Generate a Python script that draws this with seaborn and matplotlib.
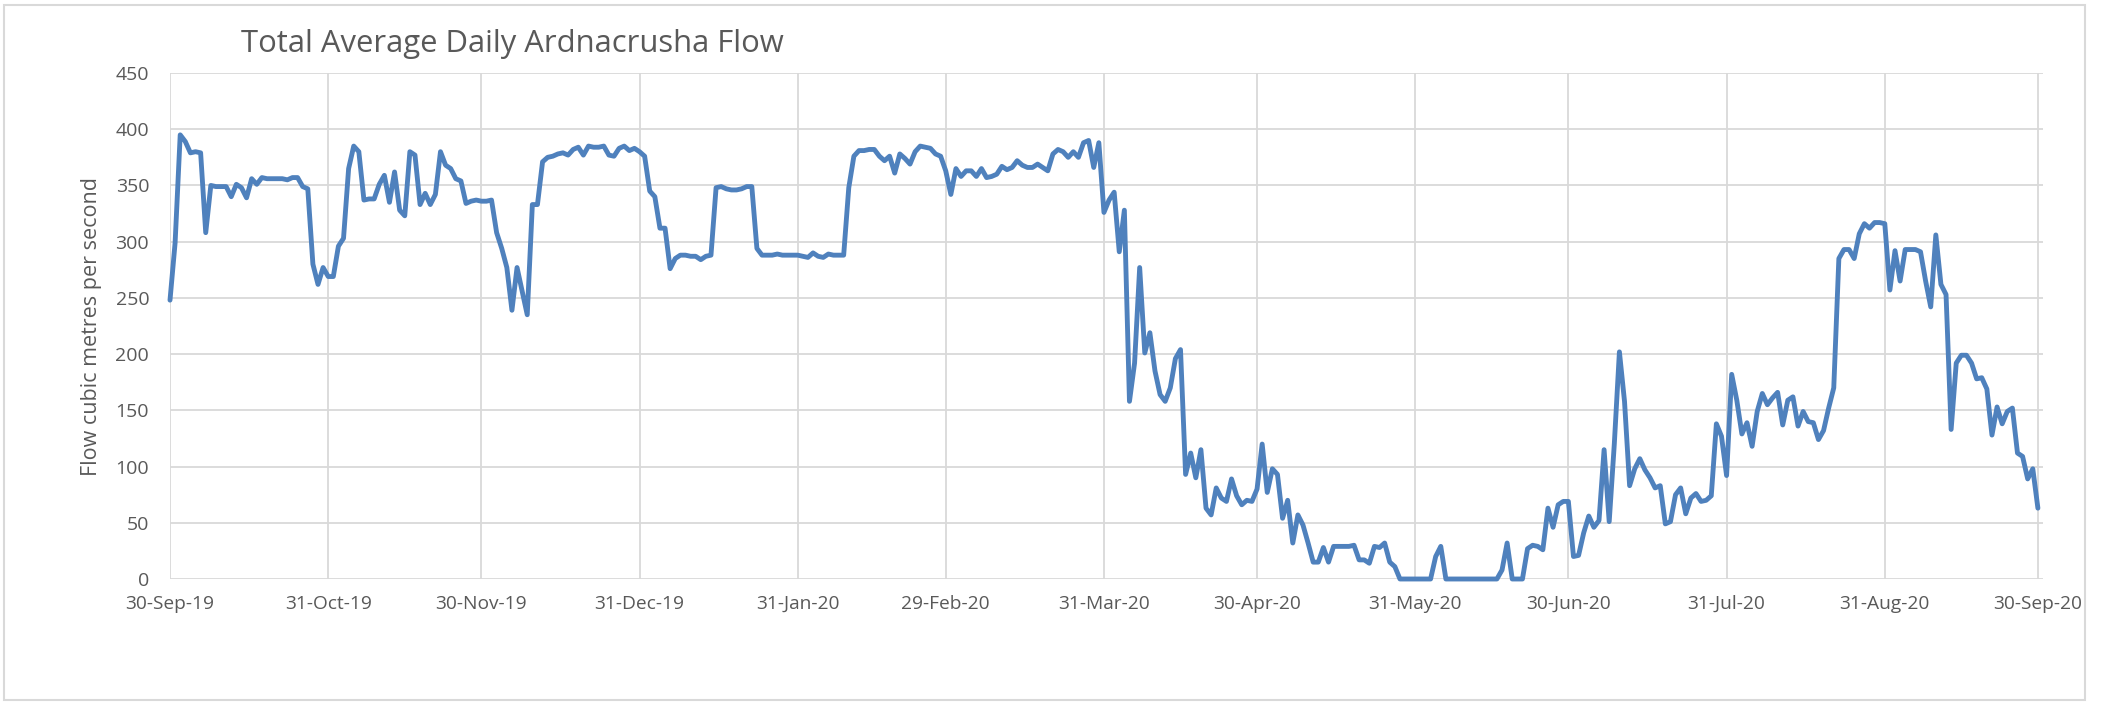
import numpy as np
import pandas as pd
import matplotlib
matplotlib.use('Agg')
import matplotlib.pyplot as plt
import matplotlib.dates as mdates
from matplotlib.patches import Rectangle
import seaborn as sns

# daily flow values (m3/s), month by month
sep_2019 = [248]
oct_2019 = [299, 395, 389, 379, 380, 379, 308, 350, 349, 349, 349, 340, 351, 348, 339, 356,
            351, 357, 356, 356, 356, 356, 355, 357, 357, 349, 347, 280, 262, 277, 269]
nov_2019 = [269, 296, 303, 365, 385, 380, 337, 338, 338, 351, 359, 335, 362, 328, 323, 380,
            377, 333, 343, 333, 342, 380, 368, 365, 356, 354, 334, 336, 337, 336]
dec_2019 = [336, 337, 308, 294, 277, 239, 277, 256, 235, 333, 333, 371, 375, 376, 378, 379,
            377, 382, 384, 377, 385, 384, 384, 385, 377, 376, 383, 385, 381, 383, 380]
jan_2020 = [376, 345, 340, 312, 312, 276, 285, 288, 288, 287, 287, 284, 287, 288, 348, 349,
            347, 346, 346, 347, 349, 349, 294, 288, 288, 288, 289, 288, 288, 288, 288]
feb_2020 = [287, 286, 290, 287, 286, 289, 288, 288, 288, 348, 376, 381, 381, 382, 382, 376,
            372, 376, 361, 378, 374, 369, 380, 385, 384, 383, 378, 376, 363]
mar_2020 = [342, 365, 358, 363, 363, 358, 365, 357, 358, 360, 367, 364, 366, 372, 368, 366,
            366, 369, 366, 363, 378, 382, 380, 375, 380, 375, 388, 390, 366, 388, 326]
apr_2020 = [337, 344, 291, 328, 158, 192, 277, 201, 219, 185, 164, 158, 170, 196, 204, 93,
            112, 90, 115, 63, 57, 81, 72, 69, 89, 74, 66, 70, 69, 80]
may_2020 = [120, 77, 98, 93, 54, 70, 32, 57, 48, 32, 15, 15, 28, 15, 29, 29,
            29, 29, 30, 17, 17, 14, 29, 28, 32, 15, 11, 0, 0, 0, 0]
jun_2020 = [0, 0, 0, 20, 29, 0, 0, 0, 0, 0, 0, 0, 0, 0, 0, 0,
            8, 32, 0, 0, 0, 27, 30, 29, 26, 63, 46, 66, 69, 69]
jul_2020 = [20, 21, 41, 56, 46, 52, 115, 51, 120, 202, 158, 83, 98, 107, 97, 90,
            81, 83, 49, 51, 75, 81, 58, 72, 76, 69, 70, 74, 138, 127, 92]
aug_2020 = [182, 159, 129, 139, 118, 149, 165, 155, 161, 166, 137, 159, 162, 136, 149, 140,
            139, 124, 132, 152, 170, 285, 293, 293, 285, 307, 316, 312, 317, 317, 316]
sep_2020 = [257, 292, 265, 293, 293, 293, 291, 265, 242, 306, 262, 253, 133, 192, 199,
            199, 192, 178, 179, 169, 128, 153, 138, 149, 152, 112, 109, 89, 98, 63]

tick_dates = ['2019-09-30', '2019-10-31', '2019-11-30', '2019-12-31', '2020-01-31',
              '2020-02-29', '2020-03-31', '2020-04-30', '2020-05-31', '2020-06-30',
              '2020-07-31', '2020-08-31', '2020-09-30']

flow = (sep_2019 + oct_2019 + nov_2019 + dec_2019 + jan_2020 + feb_2020 + mar_2020
        + apr_2020 + may_2020 + jun_2020 + jul_2020 + aug_2020 + sep_2020)
df = pd.DataFrame({'date': pd.date_range('2019-09-30', periods=len(flow), freq='D'),
                   'flow': flow})

sns.set_style('white')
plt.rcParams['font.family'] = ['Open Sans', 'DejaVu Sans']

W, H = 2107, 704
fig = plt.figure(figsize=(W / 100, H / 100), dpi=100)
ax = fig.add_axes([170 / W, 1 - 579 / H, (2043 - 170) / W, (579 - 73) / H])

grey = '#595959'
grid = '#D9D9D9'

sns.lineplot(data=df, x='date', y='flow', color='#4F81BD', linewidth=3.5, ax=ax,
             clip_on=False, solid_joinstyle='round', solid_capstyle='round', zorder=5)

ax.set_ylim(0, 450)
ax.set_yticks(np.arange(0, 451, 50))
ticks = pd.to_datetime(tick_dates)
ax.set_xlim(ticks[0], ticks[-1] + pd.Timedelta(days=1))
ax.set_xticks(ticks)
ax.xaxis.set_major_formatter(mdates.DateFormatter('%d-%b-%y'))

ax.grid(True, color=grid, linewidth=1.3)
ax.set_axisbelow(True)
for s in ax.spines.values():
    s.set_visible(False)

ax.tick_params(axis='y', length=0, pad=15, labelsize=14, labelcolor=grey)
ax.tick_params(axis='x', length=4.5, width=1.3, color=grid, pad=7, labelsize=13.8,
               labelcolor=grey)
ax.set_xlabel('')
ax.set_ylabel('')

fig.text(92 / W, 1 - 326 / H, 'Flow cubic metres per second', rotation=90,
         ha='center', va='center', fontsize=15.5, color=grey)
fig.text(241 / W, 1 - 52 / H, 'Total Average Daily Ardnacrusha Flow', ha='left',
         va='baseline', fontsize=22.3, color=grey)

# chart area: the last date label is cut at the right border
fig.patches.append(Rectangle((2086 / W, 0), 1, 1, transform=fig.transFigure,
                             facecolor='white', edgecolor='none', zorder=10))
fig.patches.append(Rectangle((4 / W, 4 / H), (2085 - 4) / W, (699 - 4) / H,
                             transform=fig.transFigure, fill=False, edgecolor=grid,
                             linewidth=1.5, zorder=11))

fig.savefig('out.png', dpi=100)
